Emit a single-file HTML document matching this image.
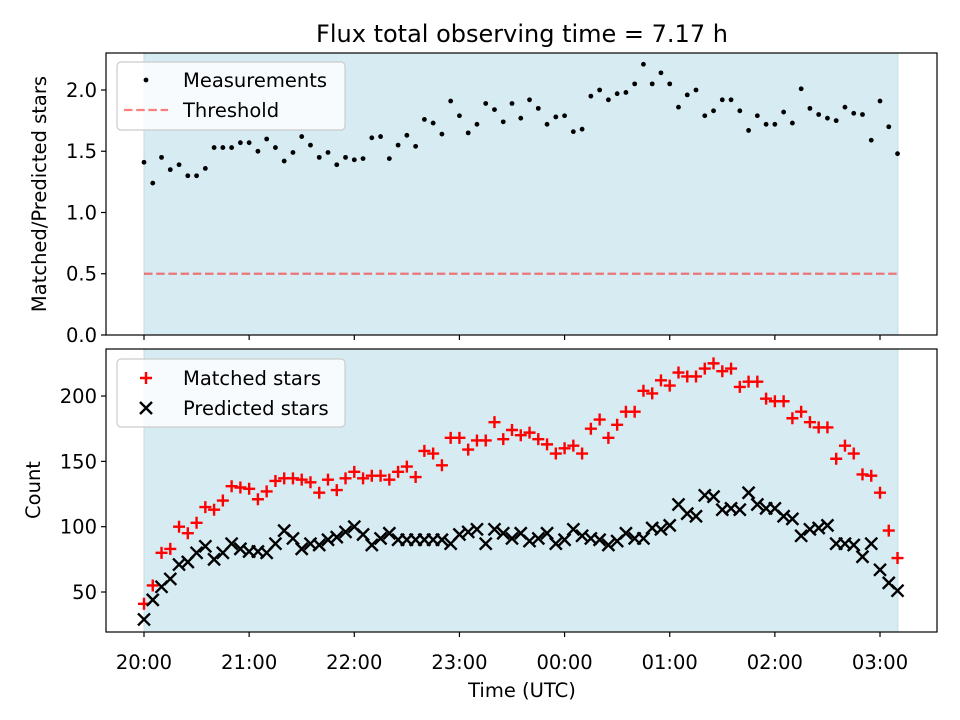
<!DOCTYPE html>
<html><head><meta charset="utf-8"><style>
html,body{margin:0;padding:0;background:#fff;}
svg{display:block;font-family:"DejaVu Sans","Liberation Sans",sans-serif;}
</style></head><body>
<svg id="fig" width="960" height="720" viewBox="0 0 960 720" xmlns="http://www.w3.org/2000/svg">
<rect x="0" y="0" width="960" height="720" fill="#fff"/>
<text x="522" y="42" font-size="24" text-anchor="middle" fill="#000">Flux total observing time = 7.17 h</text>
<g id="top"></g>
<g id="bot"></g>
<text transform="translate(46,194) rotate(-90)" font-size="19.5" text-anchor="middle">Matched/Predicted stars</text>
<text transform="translate(40,490) rotate(-90)" font-size="19.5" text-anchor="middle">Count</text>
<text x="522" y="697" font-size="19.5" text-anchor="middle">Time (UTC)</text>
</svg>
<script>
const ratioValues=[1.41,1.24,1.45,1.35,1.39,1.30,1.30,1.36,1.53,1.53,1.53,1.57,1.57,1.50,1.60,1.53,1.42,1.49,1.62,1.55,1.45,1.49,1.39,1.45,1.43,1.44,1.61,1.62,1.44,1.55,1.63,1.54,1.76,1.73,1.64,1.91,1.79,1.65,1.72,1.89,1.84,1.74,1.89,1.77,1.92,1.85,1.72,1.78,1.79,1.66,1.68,1.95,2.00,1.92,1.97,1.98,2.05,2.21,2.05,2.14,2.05,1.86,1.96,2.00,1.79,1.83,1.92,1.92,1.83,1.67,1.79,1.72,1.72,1.82,1.73,2.01,1.85,1.80,1.77,1.75,1.86,1.81,1.80,1.59,1.91,1.70,1.48];
const matchedValues=[41,55,80,83,100,95,103,115,113,120,131,130,129,121,127,135,137,137,136,134,126,136,128,137,142,137,139,139,136,142,146,138,158,156,147,168,168,159,166,166,180,167,174,170,172,167,163,156,160,162,156,175,182,168,178,188,188,204,202,212,208,218,215,215,221,225,219,221,207,211,211,198,196,196,183,188,180,176,176,152,162,156,140,139,126,97,76];
const predictedValues=[29,44,54,60,71,73,80,85,75,80,87,83,81,81,80,87,97,91,83,87,86,90,92,96,100,94,86,91,95,90,90,90,90,90,90,87,94,96,98,87,98,95,91,95,89,91,95,87,90,98,93,91,90,86,89,95,91,91,99,98,101,117,110,108,124,123,113,114,113,126,117,114,114,108,106,93,98,99,101,87,87,86,77,87,67,57,51];
const stepMinutes=5;
const threshold=0.5;
const totalHours=7.17;
const xTickLabels=["20:00","21:00","22:00","23:00","00:00","01:00","02:00","03:00"];
const topYTicks=[0.0,0.5,1.0,1.5,2.0];
const botYTicks=[50,100,150,200];

const NS="http://www.w3.org/2000/svg";
const L=106,R=937;
const xMin=-0.3614,xMax=7.542;
const X=h=>L+(h-xMin)/(xMax-xMin)*(R-L);
const topT=53,topB=335,topMin=0,topMax=2.302;
const YT=v=>topB-(v-topMin)/(topMax-topMin)*(topB-topT);
const botT=349,botB=632,botMin=19.4,botMax=236;
const YB=v=>botB-(v-botMin)/(botMax-botMin)*(botB-botT);
const FS=19.5;
function mk(tag,attrs,parent){const e=document.createElementNS(NS,tag);for(const k in attrs)e.setAttribute(k,attrs[k]);parent.appendChild(e);return e;}
function panel(g,top,bot,yTicks,Y,fmt,showX){
  const bg=mk('rect',{x:X(0),y:top,width:X(totalHours)-X(0),height:bot-top,fill:'#d6ebf2',stroke:'#c3dfe8','stroke-width':1},g);
  
  
  yTicks.forEach(v=>{
    const y=Y(v);
    const t=mk('line',{x1:L-5,x2:L,y1:y,y2:y,stroke:'#000','stroke-width':1.2},g);
    
    
    const tx=mk('text',{x:L-9,y:y+7,'font-size':FS,'text-anchor':'end'},g);
    
    
    tx.textContent=fmt(v);
  });
  xTickLabels.forEach((lab,i)=>{
    const x=X(i);
    const t=mk('line',{x1:x,x2:x,y1:bot,y2:bot+5,stroke:'#000','stroke-width':1.2},g);
    
    
    if(showX){
      const tx=mk('text',{x:x,y:bot+37,'font-size':FS,'text-anchor':'middle'},g);
      
      
      tx.textContent=lab;
    }
  });
}
function frame(g,top,bot){
  const f=mk('rect',{x:L,y:top,width:R-L,height:bot-top,fill:'none',stroke:'#000','stroke-width':1.2},g);
  
  
}
const gt=document.getElementById('top'),gb=document.getElementById('bot');
panel(gt,topT,topB,topYTicks,YT,v=>v.toFixed(1),false);
panel(gb,botT,botB,botYTicks,YB,v=>String(v),true);
const th=mk('line',{x1:X(0),x2:X(totalHours),y1:YT(threshold),y2:YT(threshold),stroke:'rgba(255,0,0,0.5)','stroke-width':2.2,'stroke-dasharray':'8.5 3.7'},gt);


ratioValues.forEach((v,i)=>{
  const c=mk('circle',{cx:X(i*stepMinutes/60),cy:YT(v),r:2.4,fill:'#000'},gt);
  
  
});
matchedValues.forEach((v,i)=>{
  const x=X(i*stepMinutes/60),y=YB(v);
  const p=mk('path',{d:`M${x-6},${y}H${x+6}M${x},${y-6}V${y+6}`,stroke:'#ff0000','stroke-width':2.4,fill:'none'},gb);
  
  
});
predictedValues.forEach((v,i)=>{
  const x=X(i*stepMinutes/60),y=YB(v);
  const p=mk('path',{d:`M${x-6},${y-6}L${x+6},${y+6}M${x-6},${y+6}L${x+6},${y-6}`,stroke:'#000','stroke-width':2.4,fill:'none'},gb);
  
  
});
frame(gt,topT,topB);frame(gb,botT,botB);
function legend(g,y0,rows,entries){
  const box=mk('rect',{x:117,y:y0,width:228,height:68,rx:4,fill:'rgba(255,255,255,0.8)',stroke:'#ccc','stroke-width':1.2},g);
  
  
  entries.forEach((e,k)=>{
    const cy=rows[k];
    e.draw(146,cy);
    const t=mk('text',{x:183,y:cy+7,'font-size':FS,fill:'#000'},g);
    
    
    t.textContent=e.label;
  });
}
legend(gt,62,[80,110],[
 {label:'Measurements',draw:(x,y)=>{const c=mk('circle',{cx:x,cy:y,r:2.4,fill:'#000'},gt);}},
 {label:'Threshold',draw:(x,y)=>{const l=mk('line',{x1:x-22,x2:x+22,y1:y,y2:y,stroke:'rgba(255,0,0,0.5)','stroke-width':2.2,'stroke-dasharray':'8.5 3.7'},gt);}}
]);
legend(gb,359,[378,408],[
 {label:'Matched stars',draw:(x,y)=>{const p=mk('path',{d:`M${x-6},${y}H${x+6}M${x},${y-6}V${y+6}`,stroke:'#f00','stroke-width':2.4},gb);}},
 {label:'Predicted stars',draw:(x,y)=>{const p=mk('path',{d:`M${x-6},${y-6}L${x+6},${y+6}M${x-6},${y+6}L${x+6},${y-6}`,stroke:'#000','stroke-width':2.4},gb);}}
]);
</script>
</body></html>
